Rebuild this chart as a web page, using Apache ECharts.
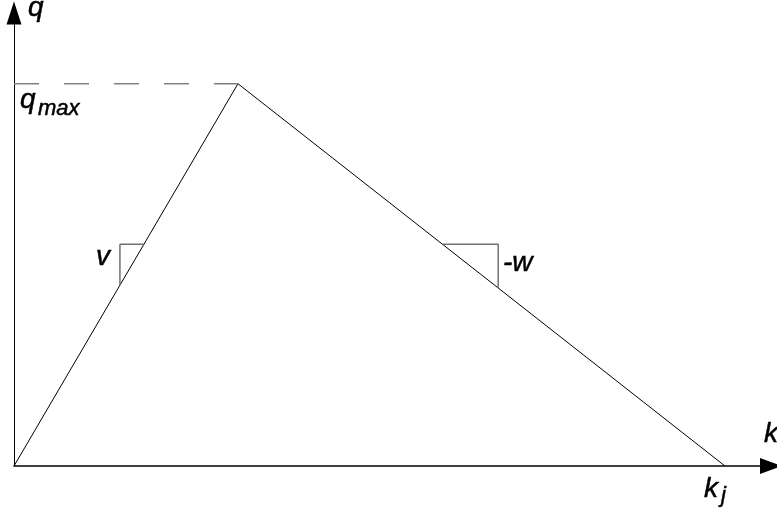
<!DOCTYPE html>
<html>
<head>
<meta charset="utf-8">
<title>Triangular fundamental diagram</title>
<script src="https://cdn.jsdelivr.net/npm/echarts@6/dist/echarts.min.js"></script>
<style>
  html, body { margin: 0; padding: 0; background: #fff; }
  #chart { width: 777px; height: 510px; }
</style>
</head>
<body>
<div id="chart"></div>
<script>
// --- data (k = density, q = flow; kj = 100, qmax = 100) ---------------------
const kNodes = [0, 31.5, 100];
const qNodes = [0, 100, 0];
const qmaxK = [0, 31.5];
const qmaxQ = [100, 100];
// little slope triangles on each branch
const vMarkK = [18.3, 14.9, 14.9];
const vMarkQ = [58, 58, 47.3];
const wMarkK = [60.3, 68.1, 68.1];
const wMarkQ = [58, 58, 46.6];
const kMax = 106.47;
const qMax = 118.5;

const FONT = "Liberation Sans, Arial, sans-serif";
const zip = (a, b) => a.map((v, i) => [v, b[i]]);

// --- text helper (y = vertical middle of the line) --------------------------
function label(text, x, y, size) {
  return {
    type: "text", x, y, silent: true,
    style: {
      text, fill: "#000", stroke: "#000", lineWidth: 0.5,
      font: `italic ${size}px ${FONT}`, textAlign: "left", verticalAlign: "middle",
    },
  };
}

const chart = echarts.init(document.getElementById("chart"), null, { renderer: "canvas" });
chart.setOption({
  animation: false,
  backgroundColor: "#fff",
  grid: { left: 14, right: 6, top: 13, bottom: 44, containLabel: false },
  xAxis: {
    type: "value", min: 0, max: kMax,
    axisLine: { show: true, symbol: ["none", "triangle"], symbolSize: [16, 22], lineStyle: { color: "#000", width: 1.5 } },
    axisTick: { show: false }, axisLabel: { show: false }, splitLine: { show: false },
  },
  yAxis: {
    type: "value", min: 0, max: qMax,
    axisLine: { show: true, symbol: ["none", "triangle"], symbolSize: [15, 23], lineStyle: { color: "#000", width: 1 } },
    axisTick: { show: false }, axisLabel: { show: false }, splitLine: { show: false },
  },
  series: [
    {
      name: "q(k)", type: "line", data: zip(kNodes, qNodes),
      symbol: "none", lineStyle: { color: "#000", width: 1 }, z: 3,
    },
    {
      name: "qmax", type: "line", data: zip(qmaxK, qmaxQ),
      symbol: "none", lineStyle: { color: "#808080", width: 1.5, type: [25, 25] },
    },
    {
      name: "v", type: "line", data: zip(vMarkK, vMarkQ),
      symbol: "none", lineStyle: { color: "#707070", width: 1.5 },
    },
    {
      name: "-w", type: "line", data: zip(wMarkK, wMarkQ),
      symbol: "none", lineStyle: { color: "#707070", width: 1.5 },
    },
  ],
  graphic: [
    label("q", 28, 7.8, 28),
    label("q", 20, 99.8, 28),
    label("max", 38, 108.4, 22),
    label("v", 96, 257.3, 28),
    label("-w", 503, 263.3, 28),
    label("k", 764, 434.3, 28),
    label("k", 704, 489.3, 28),
    label("j", 721, 495.4, 22),
  ],
});
</script>
</body>
</html>
